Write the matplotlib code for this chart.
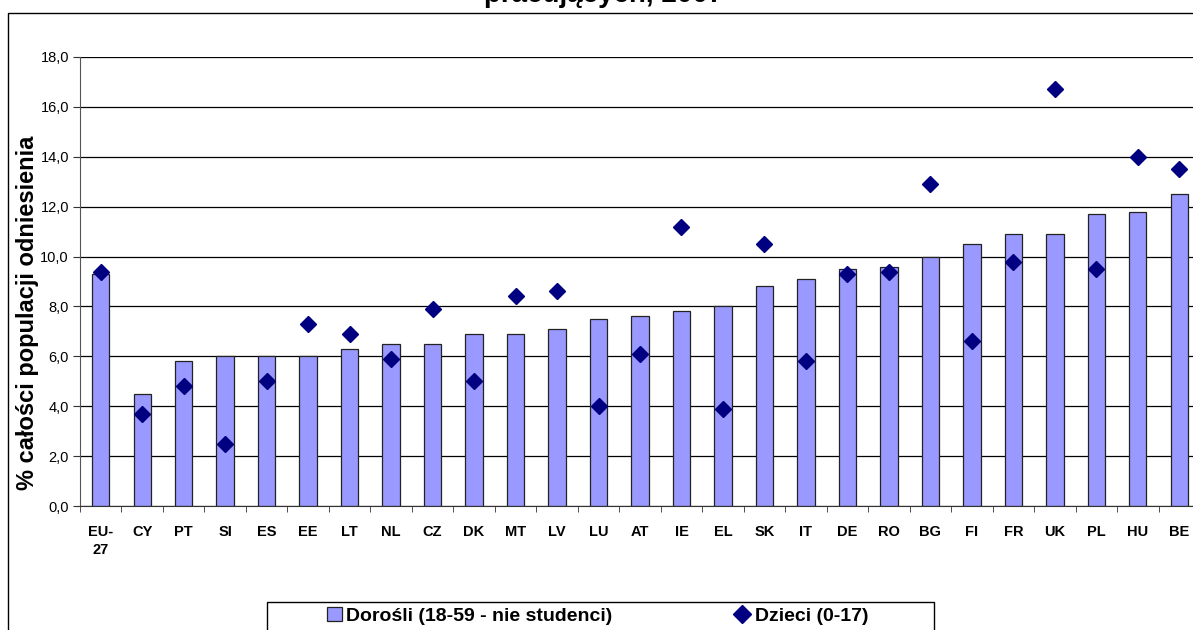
# poverty risk in households with no one working - adults vs children, 2007

import numpy as np
import matplotlib.pyplot as plt
from matplotlib.patches import Patch, Rectangle
from matplotlib.lines import Line2D

plt.rcParams['font.family'] = ['Liberation Sans', 'DejaVu Sans']

countries = ['EU-\n27', 'CY', 'PT', 'SI', 'ES', 'EE', 'LT', 'NL', 'CZ', 'DK', 'MT', 'LV', 'LU', 'AT',
             'IE', 'EL', 'SK', 'IT', 'DE', 'RO', 'BG', 'FI', 'FR', 'UK', 'PL', 'HU', 'BE']
adults = [9.3, 4.5, 5.8, 6.0, 6.0, 6.0, 6.3, 6.5, 6.5, 6.9, 6.9, 7.1, 7.5, 7.6,
          7.8, 8.0, 8.8, 9.1, 9.5, 9.6, 10.0, 10.5, 10.9, 10.9, 11.7, 11.8, 12.5]
children = [9.4, 3.7, 4.8, 2.5, 5.0, 7.3, 6.9, 5.9, 7.9, 5.0, 8.4, 8.6, 4.0, 6.1,
            11.2, 3.9, 10.5, 5.8, 9.3, 9.4, 12.9, 6.6, 9.8, 16.7, 9.5, 14.0, 13.5]
yticks = np.arange(0, 18.1, 2)

bar_color = '#9999FF'
dot_color = '#000080'

W, H = 1193, 630
fig = plt.figure(figsize=(W / 100, H / 100), dpi=100)

# outer chart frame (runs past the right and bottom edge)
fig.patches.append(Rectangle((8 / W, -0.2), 1.2, 1.2 - 13 / H, transform=fig.transFigure,
                             fill=False, edgecolor='black', linewidth=1.0))

ax = fig.add_axes([80 / W, 1 - 506 / H, 1120 / W, 449 / H])
x = np.arange(len(countries))

ax.bar(x, adults, width=0.42, color=bar_color, edgecolor='#222222', linewidth=0.9, zorder=2)
ax.plot(x, children, linestyle='none', marker='D', markersize=8.5, color=dot_color, zorder=3)

ax.set_xlim(-0.5, len(countries) - 0.5)
ax.set_ylim(0, 18)
ax.set_yticks(yticks)
ax.set_yticklabels([f'{v:.1f}'.replace('.', ',') for v in yticks], fontsize=10.5)
ax.yaxis.grid(True, color='black', linewidth=0.9)
ax.set_axisbelow(True)

ax.set_xticks(x)
ax.set_xticklabels(countries, fontsize=10.5, fontweight='bold', linespacing=1.35, va='top')
ax.tick_params(axis='x', which='major', length=0, pad=14)
ax.set_xticks(np.arange(-0.5, len(countries) - 0.4, 1), minor=True)
ax.tick_params(axis='x', which='minor', length=4, direction='out', color='#333333')
ax.tick_params(axis='y', length=5, direction='out', color='#333333', pad=3)

for s in ['top', 'right']:
    ax.spines[s].set_visible(False)
ax.spines['left'].set_color('#555555')
ax.spines['bottom'].set_color('#333333')

ax.set_ylabel('% całości populacji odniesienia', fontsize=17, fontweight='bold')
ax.yaxis.set_label_coords(-41 / 1120, 0.43)

# title: only its last line sits inside the frame
fig.text(604 / W, 1 - 2 / H, 'pracujących, 2007', ha='center', va='baseline',
         fontsize=20, fontweight='bold')

# legend box is drawn by hand so it can run off the bottom edge
fig.patches.append(Rectangle((267 / W, -0.1), (934 - 267) / W, 0.1 + 1 - 602 / H,
                             transform=fig.transFigure, fill=False, edgecolor='black', linewidth=1.0))
handles = [Patch(facecolor=bar_color, edgecolor='#222222', linewidth=0.9),
           Line2D([], [], linestyle='none', marker='D', markersize=9, color=dot_color)]
fig.legend(handles, ['Dorośli (18-59 - nie studenci)', 'Dzieci (0-17)'],
           loc='upper left', bbox_to_anchor=(327 / W, 1 - 607 / H), ncol=2,
           prop={'size': 14, 'weight': 'bold'}, frameon=False,
           handlelength=0.75, handleheight=0.75, handletextpad=0.25,
           columnspacing=6.3, borderpad=0, borderaxespad=0)

fig.savefig('out.png', dpi=100)
